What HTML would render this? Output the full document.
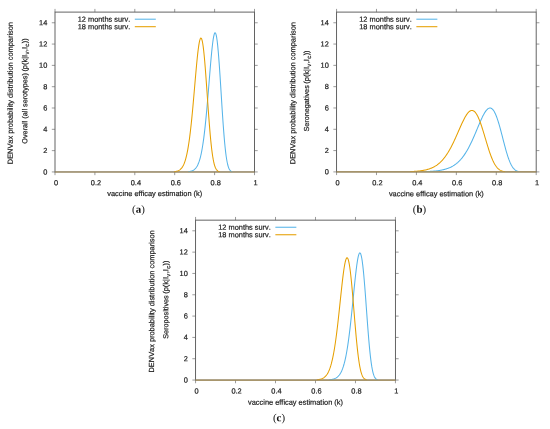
<!DOCTYPE html>
<html><head><meta charset="utf-8"><title>DENVax probability distribution comparison</title>
<style>html,body{margin:0;padding:0;background:#fff}svg{display:block;filter:blur(0.3px)}text{text-rendering:geometricPrecision;font-kerning:none;font-family:"Liberation Sans",sans-serif;font-size:7.4px;fill:#1c1c1c;stroke:#1c1c1c;stroke-width:0.2px}.cap{font-family:"Liberation Serif","DejaVu Serif",serif;font-size:10.9px;fill:#111;stroke:none}.sub{font-size:5.92px}.r{stroke-width:0.2px}</style></head><body>
<svg width="550" height="429" viewBox="0 0 550 429">
<rect width="550" height="429" fill="#fff"/>
<g>
<path d="M55.00 171.95v3.2M55.00 12.10v-3.2M94.90 171.95v3.2M94.90 12.10v-3.2M134.80 171.95v3.2M134.80 12.10v-3.2M174.70 171.95v3.2M174.70 12.10v-3.2M214.60 171.95v3.2M214.60 12.10v-3.2M254.50 171.95v3.2M254.50 12.10v-3.2M55.00 171.95h-3.2M254.50 171.95h3.2M55.00 150.64h-3.2M254.50 150.64h3.2M55.00 129.32h-3.2M254.50 129.32h3.2M55.00 108.01h-3.2M254.50 108.01h3.2M55.00 86.70h-3.2M254.50 86.70h3.2M55.00 65.38h-3.2M254.50 65.38h3.2M55.00 44.07h-3.2M254.50 44.07h3.2M55.00 22.76h-3.2M254.50 22.76h3.2" stroke="#707070" stroke-width="0.7" fill="none"/>
<rect x="55.00" y="12.10" width="199.50" height="159.85" fill="none" stroke="#5c5c5c" stroke-width="0.95"/>
<polyline points="188.27,171.66 188.77,171.60 189.27,171.53 189.77,171.45 190.26,171.35 190.76,171.24 191.26,171.10 191.76,170.94 192.26,170.75 192.76,170.52 193.26,170.26 193.75,169.95 194.25,169.60 194.75,169.18 195.25,168.70 195.75,168.14 196.25,167.50 196.75,166.76 197.25,165.91 197.74,164.94 198.24,163.84 198.74,162.59 199.24,161.17 199.74,159.57 200.24,157.77 200.74,155.76 201.24,153.52 201.73,151.03 202.23,148.28 202.73,145.25 203.23,141.93 203.73,138.31 204.23,134.39 204.73,130.16 205.23,125.62 205.72,120.78 206.22,115.66 206.72,110.27 207.22,104.64 207.72,98.81 208.22,92.82 208.72,86.72 209.22,80.57 209.72,74.45 210.21,68.42 210.71,62.57 211.21,56.99 211.71,51.77 212.21,47.00 212.71,42.78 213.21,39.19 213.71,36.33 214.20,34.27 214.70,33.07 215.20,32.79 215.70,33.46 216.20,35.10 216.70,37.70 217.20,41.25 217.69,45.68 218.19,50.95 218.69,56.96 219.19,63.60 219.69,70.77 220.19,78.33 220.69,86.15 221.19,94.08 221.69,102.01 222.18,109.79 222.68,117.30 223.18,124.46 223.68,131.16 224.18,137.34 224.68,142.96 225.18,147.99 225.67,152.41 226.17,156.24 226.67,159.51 227.17,162.25 227.67,164.51 228.17,166.33 228.67,167.79 229.17,168.92 229.66,169.78 230.16,170.43 230.66,170.91 231.16,171.25 231.66,171.49 232.16,171.66" fill="none" stroke="#56b4e9" stroke-width="1.05" stroke-linejoin="round"/>
<polyline points="174.30,171.66 174.80,171.60 175.30,171.53 175.80,171.44 176.30,171.33 176.80,171.21 177.30,171.06 177.79,170.89 178.29,170.68 178.79,170.44 179.29,170.16 179.79,169.83 180.29,169.44 180.79,168.99 181.29,168.47 181.78,167.86 182.28,167.16 182.78,166.36 183.28,165.45 183.78,164.40 184.28,163.21 184.78,161.86 185.28,160.34 185.78,158.62 186.27,156.71 186.77,154.57 187.27,152.19 187.77,149.57 188.27,146.69 188.77,143.53 189.27,140.08 189.77,136.36 190.26,132.34 190.76,128.03 191.26,123.45 191.76,118.60 192.26,113.50 192.76,108.18 193.26,102.67 193.75,97.01 194.25,91.25 194.75,85.44 195.25,79.65 195.75,73.93 196.25,68.37 196.75,63.04 197.25,58.01 197.74,53.38 198.24,49.23 198.74,45.62 199.24,42.64 199.74,40.35 200.24,38.81 200.74,38.06 201.24,38.15 201.73,39.08 202.23,40.87 202.73,43.49 203.23,46.93 203.73,51.12 204.23,56.01 204.73,61.53 205.23,67.58 205.72,74.07 206.22,80.88 206.72,87.92 207.22,95.06 207.72,102.20 208.22,109.24 208.72,116.08 209.22,122.64 209.72,128.85 210.21,134.65 210.71,139.99 211.21,144.86 211.71,149.23 212.21,153.11 212.71,156.50 213.21,159.43 213.71,161.92 214.20,164.02 214.70,165.76 215.20,167.18 215.70,168.33 216.20,169.23 216.70,169.94 217.20,170.49 217.69,170.90 218.19,171.21 218.69,171.44 219.19,171.60 219.69,171.72" fill="none" stroke="#e69f00" stroke-width="1.05" stroke-linejoin="round"/>
<path d="M55.00 171.95h199.50" stroke="#a8905a" stroke-width="1.15"/>
<text x="56.10" y="185.30" text-anchor="middle" transform="rotate(0.03 56.10 185.30)">0</text>
<text x="96.00" y="185.30" text-anchor="middle" transform="rotate(0.03 96.00 185.30)">0.2</text>
<text x="135.90" y="185.30" text-anchor="middle" transform="rotate(0.03 135.90 185.30)">0.4</text>
<text x="175.80" y="185.30" text-anchor="middle" transform="rotate(0.03 175.80 185.30)">0.6</text>
<text x="215.70" y="185.30" text-anchor="middle" transform="rotate(0.03 215.70 185.30)">0.8</text>
<text x="255.60" y="185.30" text-anchor="middle" transform="rotate(0.03 255.60 185.30)">1</text>
<text x="47.30" y="174.40" text-anchor="end" transform="rotate(0.03 47.30 174.40)">0</text>
<text x="47.30" y="153.09" text-anchor="end" transform="rotate(0.03 47.30 153.09)">2</text>
<text x="47.30" y="131.77" text-anchor="end" transform="rotate(0.03 47.30 131.77)">4</text>
<text x="47.30" y="110.46" text-anchor="end" transform="rotate(0.03 47.30 110.46)">6</text>
<text x="47.30" y="89.15" text-anchor="end" transform="rotate(0.03 47.30 89.15)">8</text>
<text x="47.30" y="67.83" text-anchor="end" transform="rotate(0.03 47.30 67.83)">10</text>
<text x="47.30" y="46.52" text-anchor="end" transform="rotate(0.03 47.30 46.52)">12</text>
<text x="47.30" y="25.21" text-anchor="end" transform="rotate(0.03 47.30 25.21)">14</text>
<text x="154.75" y="196.10" text-anchor="middle" transform="rotate(0.03 154.75 196.10)">vaccine efficay estimation (k)</text>
<text class="r" transform="translate(12.80 93.12) rotate(-89.97)" text-anchor="middle">DENVax probability distribution comparison</text>
<text class="r" transform="translate(27.20 143.65) rotate(-89.97)" text-anchor="start" style="font-size:7.25px">Overall (all serotypes)</text>
<text class="r" transform="translate(27.20 38.35) rotate(-89.97)" text-anchor="end">(p(k|I<tspan class="sub" dx="0.3" dy="1.9">v</tspan><tspan dx="0.5" dy="-1.9">,I</tspan><tspan class="sub" dx="0.3" dy="1.9">c</tspan><tspan dx="0.5" dy="-1.9">))</tspan></text>
<text x="130.30" y="21.80" text-anchor="end" transform="rotate(0.03 130.30 21.80)">12 months surv.</text>
<text x="130.30" y="29.30" text-anchor="end" transform="rotate(0.03 130.30 29.30)">18 months surv.</text>
<path d="M134.80 19.20h21" stroke="#56b4e9" stroke-width="1.05"/>
<path d="M134.80 26.70h21" stroke="#e69f00" stroke-width="1.05"/>
<text class="cap" x="138.40" y="212.70" text-anchor="middle" transform="rotate(0.03 138.40 212.70)">(<tspan font-weight="bold">a</tspan>)</text>
</g>
<g>
<path d="M336.55 171.90v3.2M336.55 12.10v-3.2M376.48 171.90v3.2M376.48 12.10v-3.2M416.41 171.90v3.2M416.41 12.10v-3.2M456.34 171.90v3.2M456.34 12.10v-3.2M496.27 171.90v3.2M496.27 12.10v-3.2M536.20 171.90v3.2M536.20 12.10v-3.2M336.55 171.90h-3.2M536.20 171.90h3.2M336.55 150.59h-3.2M536.20 150.59h3.2M336.55 129.29h-3.2M536.20 129.29h3.2M336.55 107.98h-3.2M536.20 107.98h3.2M336.55 86.67h-3.2M536.20 86.67h3.2M336.55 65.37h-3.2M536.20 65.37h3.2M336.55 44.06h-3.2M536.20 44.06h3.2M336.55 22.75h-3.2M536.20 22.75h3.2" stroke="#707070" stroke-width="0.7" fill="none"/>
<rect x="336.55" y="12.10" width="199.65" height="159.80" fill="none" stroke="#5c5c5c" stroke-width="0.95"/>
<polyline points="425.70,171.59 426.19,171.57 426.69,171.55 427.19,171.53 427.69,171.51 428.19,171.49 428.69,171.46 429.19,171.44 429.69,171.41 430.19,171.38 430.69,171.36 431.19,171.32 431.68,171.29 432.18,171.26 432.68,171.22 433.18,171.18 433.68,171.14 434.18,171.09 434.68,171.05 435.18,171.00 435.68,170.95 436.18,170.90 436.68,170.84 437.18,170.78 437.67,170.72 438.17,170.65 438.67,170.58 439.17,170.50 439.67,170.43 440.17,170.34 440.67,170.26 441.17,170.17 441.67,170.07 442.17,169.97 442.67,169.86 443.16,169.75 443.66,169.63 444.16,169.51 444.66,169.38 445.16,169.24 445.66,169.10 446.16,168.95 446.66,168.79 447.16,168.62 447.66,168.45 448.16,168.26 448.65,168.07 449.15,167.87 449.65,167.65 450.15,167.43 450.65,167.20 451.15,166.96 451.65,166.70 452.15,166.43 452.65,166.15 453.15,165.86 453.65,165.55 454.15,165.23 454.64,164.90 455.14,164.55 455.64,164.18 456.14,163.80 456.64,163.41 457.14,162.99 457.64,162.56 458.14,162.11 458.64,161.64 459.14,161.16 459.64,160.65 460.13,160.12 460.63,159.58 461.13,159.01 461.63,158.42 462.13,157.81 462.63,157.17 463.13,156.52 463.63,155.84 464.13,155.14 464.63,154.41 465.13,153.66 465.63,152.89 466.12,152.09 466.62,151.26 467.12,150.42 467.62,149.55 468.12,148.65 468.62,147.73 469.12,146.79 469.62,145.82 470.12,144.83 470.62,143.82 471.12,142.79 471.61,141.74 472.11,140.66 472.61,139.57 473.11,138.46 473.61,137.33 474.11,136.19 474.61,135.03 475.11,133.87 475.61,132.69 476.11,131.50 476.61,130.31 477.11,129.12 477.60,127.92 478.10,126.73 478.60,125.54 479.10,124.36 479.60,123.19 480.10,122.03 480.60,120.89 481.10,119.78 481.60,118.69 482.10,117.62 482.60,116.59 483.09,115.60 483.59,114.65 484.09,113.74 484.59,112.89 485.09,112.09 485.59,111.34 486.09,110.66 486.59,110.05 487.09,109.51 487.59,109.04 488.09,108.66 488.58,108.36 489.08,108.14 489.58,108.01 490.08,107.98 490.58,108.05 491.08,108.21 491.58,108.47 492.08,108.84 492.58,109.31 493.08,109.88 493.58,110.56 494.08,111.34 494.57,112.23 495.07,113.21 495.57,114.30 496.07,115.48 496.57,116.76 497.07,118.13 497.57,119.58 498.07,121.12 498.57,122.72 499.07,124.40 499.57,126.14 500.06,127.93 500.56,129.76 501.06,131.64 501.56,133.54 502.06,135.47 502.56,137.41 503.06,139.35 503.56,141.29 504.06,143.21 504.56,145.10 505.06,146.97 505.56,148.80 506.05,150.58 506.55,152.30 507.05,153.96 507.55,155.56 508.05,157.08 508.55,158.53 509.05,159.90 509.55,161.18 510.05,162.38 510.55,163.50 511.05,164.53 511.54,165.47 512.04,166.33 512.54,167.10 513.04,167.80 513.54,168.42 514.04,168.98 514.54,169.46 515.04,169.88 515.54,170.24 516.04,170.56 516.54,170.82 517.03,171.04 517.53,171.22 518.03,171.37 518.53,171.50 519.03,171.59" fill="none" stroke="#56b4e9" stroke-width="1.05" stroke-linejoin="round"/>
<polyline points="410.22,171.59 410.72,171.57 411.22,171.55 411.72,171.53 412.22,171.50 412.72,171.48 413.22,171.45 413.72,171.42 414.22,171.39 414.71,171.36 415.21,171.32 415.71,171.29 416.21,171.25 416.71,171.21 417.21,171.16 417.71,171.12 418.21,171.07 418.71,171.02 419.21,170.96 419.71,170.91 420.20,170.84 420.70,170.78 421.20,170.71 421.70,170.64 422.20,170.56 422.70,170.48 423.20,170.39 423.70,170.30 424.20,170.21 424.70,170.11 425.20,170.00 425.70,169.89 426.19,169.77 426.69,169.64 427.19,169.51 427.69,169.37 428.19,169.22 428.69,169.07 429.19,168.90 429.69,168.73 430.19,168.55 430.69,168.36 431.19,168.16 431.68,167.95 432.18,167.73 432.68,167.50 433.18,167.26 433.68,167.00 434.18,166.74 434.68,166.46 435.18,166.16 435.68,165.86 436.18,165.53 436.68,165.20 437.18,164.85 437.67,164.48 438.17,164.09 438.67,163.69 439.17,163.27 439.67,162.84 440.17,162.38 440.67,161.91 441.17,161.42 441.67,160.90 442.17,160.37 442.67,159.81 443.16,159.24 443.66,158.64 444.16,158.02 444.66,157.38 445.16,156.72 445.66,156.03 446.16,155.32 446.66,154.59 447.16,153.83 447.66,153.05 448.16,152.25 448.65,151.42 449.15,150.57 449.65,149.70 450.15,148.81 450.65,147.89 451.15,146.95 451.65,145.99 452.15,145.00 452.65,144.00 453.15,142.98 453.65,141.94 454.15,140.88 454.64,139.81 455.14,138.72 455.64,137.62 456.14,136.51 456.64,135.38 457.14,134.25 457.64,133.12 458.14,131.98 458.64,130.83 459.14,129.69 459.64,128.55 460.13,127.42 460.63,126.30 461.13,125.18 461.63,124.09 462.13,123.01 462.63,121.95 463.13,120.91 463.63,119.91 464.13,118.93 464.63,117.99 465.13,117.09 465.63,116.23 466.12,115.41 466.62,114.64 467.12,113.93 467.62,113.28 468.12,112.68 468.62,112.15 469.12,111.68 469.62,111.28 470.12,110.96 470.62,110.71 471.12,110.54 471.61,110.45 472.11,110.44 472.61,110.51 473.11,110.67 473.61,110.92 474.11,111.26 474.61,111.69 475.11,112.20 475.61,112.80 476.11,113.49 476.61,114.26 477.11,115.12 477.60,116.07 478.10,117.09 478.60,118.19 479.10,119.36 479.60,120.61 480.10,121.92 480.60,123.29 481.10,124.72 481.60,126.20 482.10,127.73 482.60,129.30 483.09,130.90 483.59,132.53 484.09,134.19 484.59,135.86 485.09,137.54 485.59,139.22 486.09,140.90 486.59,142.57 487.09,144.22 487.59,145.85 488.09,147.46 488.58,149.03 489.08,150.57 489.58,152.06 490.08,153.50 490.58,154.90 491.08,156.24 491.58,157.52 492.08,158.75 492.58,159.91 493.08,161.01 493.58,162.04 494.08,163.02 494.57,163.92 495.07,164.77 495.57,165.55 496.07,166.27 496.57,166.93 497.07,167.54 497.57,168.08 498.07,168.58 498.57,169.03 499.07,169.42 499.57,169.78 500.06,170.09 500.56,170.37 501.06,170.61 501.56,170.82 502.06,171.00 502.56,171.16 503.06,171.29 503.56,171.40 504.06,171.50 504.56,171.58 505.06,171.64" fill="none" stroke="#e69f00" stroke-width="1.05" stroke-linejoin="round"/>
<path d="M336.55 171.90h199.65" stroke="#a8905a" stroke-width="1.15"/>
<text x="337.45" y="185.25" text-anchor="middle" transform="rotate(0.03 337.45 185.25)">0</text>
<text x="377.38" y="185.25" text-anchor="middle" transform="rotate(0.03 377.38 185.25)">0.2</text>
<text x="417.31" y="185.25" text-anchor="middle" transform="rotate(0.03 417.31 185.25)">0.4</text>
<text x="457.24" y="185.25" text-anchor="middle" transform="rotate(0.03 457.24 185.25)">0.6</text>
<text x="497.17" y="185.25" text-anchor="middle" transform="rotate(0.03 497.17 185.25)">0.8</text>
<text x="537.10" y="185.25" text-anchor="middle" transform="rotate(0.03 537.10 185.25)">1</text>
<text x="328.85" y="174.35" text-anchor="end" transform="rotate(0.03 328.85 174.35)">0</text>
<text x="328.85" y="153.04" text-anchor="end" transform="rotate(0.03 328.85 153.04)">2</text>
<text x="328.85" y="131.74" text-anchor="end" transform="rotate(0.03 328.85 131.74)">4</text>
<text x="328.85" y="110.43" text-anchor="end" transform="rotate(0.03 328.85 110.43)">6</text>
<text x="328.85" y="89.12" text-anchor="end" transform="rotate(0.03 328.85 89.12)">8</text>
<text x="328.85" y="67.82" text-anchor="end" transform="rotate(0.03 328.85 67.82)">10</text>
<text x="328.85" y="46.51" text-anchor="end" transform="rotate(0.03 328.85 46.51)">12</text>
<text x="328.85" y="25.20" text-anchor="end" transform="rotate(0.03 328.85 25.20)">14</text>
<text x="436.38" y="196.35" text-anchor="middle" transform="rotate(0.03 436.38 196.35)">vaccine efficay estimation (k)</text>
<text class="r" transform="translate(295.35 93.10) rotate(-89.97)" text-anchor="middle">DENVax probability distribution comparison</text>
<text class="r" transform="translate(309.05 131.57) rotate(-89.97)" text-anchor="start" style="font-size:7.25px">Seronegatives</text>
<text class="r" transform="translate(309.05 50.43) rotate(-89.97)" text-anchor="end">(p(k|I<tspan class="sub" dx="0.3" dy="1.9">v</tspan><tspan dx="0.5" dy="-1.9">,I</tspan><tspan class="sub" dx="0.3" dy="1.9">c</tspan><tspan dx="0.5" dy="-1.9">))</tspan></text>
<text x="411.85" y="21.80" text-anchor="end" transform="rotate(0.03 411.85 21.80)">12 months surv.</text>
<text x="411.85" y="29.30" text-anchor="end" transform="rotate(0.03 411.85 29.30)">18 months surv.</text>
<path d="M416.35 19.20h21" stroke="#56b4e9" stroke-width="1.05"/>
<path d="M416.35 26.70h21" stroke="#e69f00" stroke-width="1.05"/>
<text class="cap" x="419.50" y="212.80" text-anchor="middle" transform="rotate(0.03 419.50 212.80)">(<tspan font-weight="bold">b</tspan>)</text>
</g>
<g>
<path d="M195.55 380.05v3.2M195.55 220.15v-3.2M235.53 380.05v3.2M235.53 220.15v-3.2M275.51 380.05v3.2M275.51 220.15v-3.2M315.49 380.05v3.2M315.49 220.15v-3.2M355.47 380.05v3.2M355.47 220.15v-3.2M395.45 380.05v3.2M395.45 220.15v-3.2M195.55 380.05h-3.2M395.45 380.05h3.2M195.55 358.73h-3.2M395.45 358.73h3.2M195.55 337.41h-3.2M395.45 337.41h3.2M195.55 316.09h-3.2M395.45 316.09h3.2M195.55 294.77h-3.2M395.45 294.77h3.2M195.55 273.45h-3.2M395.45 273.45h3.2M195.55 252.13h-3.2M395.45 252.13h3.2M195.55 230.81h-3.2M395.45 230.81h3.2" stroke="#707070" stroke-width="0.7" fill="none"/>
<rect x="195.55" y="220.15" width="199.90" height="159.90" fill="none" stroke="#5c5c5c" stroke-width="0.95"/>
<polyline points="329.28,379.76 329.78,379.72 330.28,379.66 330.78,379.60 331.28,379.52 331.78,379.44 332.28,379.34 332.78,379.23 333.28,379.10 333.78,378.95 334.28,378.78 334.78,378.59 335.28,378.36 335.78,378.11 336.28,377.82 336.78,377.49 337.28,377.11 337.78,376.68 338.28,376.20 338.78,375.66 339.28,375.04 339.78,374.35 340.28,373.58 340.78,372.71 341.28,371.74 341.78,370.66 342.28,369.46 342.78,368.13 343.28,366.65 343.78,365.02 344.28,363.23 344.78,361.27 345.28,359.12 345.78,356.78 346.27,354.24 346.77,351.48 347.27,348.52 347.77,345.33 348.27,341.92 348.77,338.29 349.27,334.43 349.77,330.37 350.27,326.10 350.77,321.65 351.27,317.02 351.77,312.25 352.27,307.37 352.77,302.39 353.27,297.38 353.77,292.36 354.27,287.39 354.77,282.52 355.27,277.81 355.77,273.32 356.27,269.11 356.77,265.25 357.27,261.81 357.77,258.84 358.27,256.41 358.77,254.58 359.27,253.39 359.77,252.89 360.27,253.11 360.77,254.07 361.27,255.79 361.77,258.25 362.27,261.45 362.77,265.34 363.27,269.88 363.77,275.02 364.27,280.68 364.77,286.77 365.27,293.20 365.77,299.88 366.26,306.70 366.76,313.55 367.26,320.35 367.76,326.98 368.26,333.37 368.76,339.43 369.26,345.11 369.76,350.35 370.26,355.11 370.76,359.39 371.26,363.16 371.76,366.43 372.26,369.24 372.76,371.60 373.26,373.55 373.76,375.14 374.26,376.40 374.76,377.40 375.26,378.16 375.76,378.73 376.26,379.15 376.76,379.45 377.26,379.66 377.76,379.80" fill="none" stroke="#56b4e9" stroke-width="1.05" stroke-linejoin="round"/>
<polyline points="316.79,379.78 317.29,379.73 317.79,379.67 318.29,379.61 318.79,379.53 319.29,379.45 319.79,379.34 320.29,379.23 320.79,379.09 321.29,378.93 321.79,378.75 322.29,378.54 322.79,378.30 323.29,378.03 323.79,377.72 324.29,377.36 324.79,376.96 325.29,376.50 325.79,375.97 326.28,375.38 326.78,374.72 327.28,373.97 327.78,373.13 328.28,372.19 328.78,371.14 329.28,369.97 329.78,368.67 330.28,367.24 330.78,365.65 331.28,363.90 331.78,361.99 332.28,359.90 332.78,357.62 333.28,355.15 333.78,352.48 334.28,349.60 334.78,346.51 335.28,343.21 335.78,339.70 336.28,335.99 336.78,332.08 337.28,327.99 337.78,323.72 338.28,319.30 338.78,314.75 339.28,310.11 339.78,305.39 340.28,300.63 340.78,295.89 341.28,291.19 341.78,286.60 342.28,282.15 342.78,277.92 343.28,273.94 343.78,270.28 344.28,266.99 344.78,264.13 345.28,261.74 345.78,259.88 346.27,258.59 346.77,257.89 347.27,257.83 347.77,258.42 348.27,259.65 348.77,261.55 349.27,264.08 349.77,267.23 350.27,270.96 350.77,275.23 351.27,279.98 351.77,285.15 352.27,290.66 352.77,296.44 353.27,302.42 353.77,308.50 354.27,314.61 354.77,320.67 355.27,326.61 355.77,332.36 356.27,337.86 356.77,343.05 357.27,347.91 357.77,352.39 358.27,356.48 358.77,360.17 359.27,363.46 359.77,366.35 360.27,368.87 360.77,371.03 361.27,372.86 361.77,374.38 362.27,375.65 362.77,376.67 363.27,377.49 363.77,378.14 364.27,378.65 364.77,379.04 365.27,379.33 365.77,379.54 366.26,379.70 366.76,379.81" fill="none" stroke="#e69f00" stroke-width="1.05" stroke-linejoin="round"/>
<path d="M195.55 380.05h199.90" stroke="#a8905a" stroke-width="1.15"/>
<text x="196.55" y="393.40" text-anchor="middle" transform="rotate(0.03 196.55 393.40)">0</text>
<text x="236.53" y="393.40" text-anchor="middle" transform="rotate(0.03 236.53 393.40)">0.2</text>
<text x="276.51" y="393.40" text-anchor="middle" transform="rotate(0.03 276.51 393.40)">0.4</text>
<text x="316.49" y="393.40" text-anchor="middle" transform="rotate(0.03 316.49 393.40)">0.6</text>
<text x="356.47" y="393.40" text-anchor="middle" transform="rotate(0.03 356.47 393.40)">0.8</text>
<text x="396.45" y="393.40" text-anchor="middle" transform="rotate(0.03 396.45 393.40)">1</text>
<text x="187.85" y="382.50" text-anchor="end" transform="rotate(0.03 187.85 382.50)">0</text>
<text x="187.85" y="361.18" text-anchor="end" transform="rotate(0.03 187.85 361.18)">2</text>
<text x="187.85" y="339.86" text-anchor="end" transform="rotate(0.03 187.85 339.86)">4</text>
<text x="187.85" y="318.54" text-anchor="end" transform="rotate(0.03 187.85 318.54)">6</text>
<text x="187.85" y="297.22" text-anchor="end" transform="rotate(0.03 187.85 297.22)">8</text>
<text x="187.85" y="275.90" text-anchor="end" transform="rotate(0.03 187.85 275.90)">10</text>
<text x="187.85" y="254.58" text-anchor="end" transform="rotate(0.03 187.85 254.58)">12</text>
<text x="187.85" y="233.26" text-anchor="end" transform="rotate(0.03 187.85 233.26)">14</text>
<text x="295.50" y="404.80" text-anchor="middle" transform="rotate(0.03 295.50 404.80)">vaccine efficay estimation (k)</text>
<text class="r" transform="translate(154.15 301.40) rotate(-89.97)" text-anchor="middle">DENVax probability distribution comparison</text>
<text class="r" transform="translate(168.25 338.81) rotate(-89.97)" text-anchor="start" style="font-size:7.25px">Seropositives</text>
<text class="r" transform="translate(168.25 260.49) rotate(-89.97)" text-anchor="end">(p(k|I<tspan class="sub" dx="0.3" dy="1.9">v</tspan><tspan dx="0.5" dy="-1.9">,I</tspan><tspan class="sub" dx="0.3" dy="1.9">c</tspan><tspan dx="0.5" dy="-1.9">))</tspan></text>
<text x="270.85" y="229.85" text-anchor="end" transform="rotate(0.03 270.85 229.85)">12 months surv.</text>
<text x="270.85" y="237.35" text-anchor="end" transform="rotate(0.03 270.85 237.35)">18 months surv.</text>
<path d="M275.35 227.25h21" stroke="#56b4e9" stroke-width="1.05"/>
<path d="M275.35 234.75h21" stroke="#e69f00" stroke-width="1.05"/>
<text class="cap" x="279.00" y="421.30" text-anchor="middle" transform="rotate(0.03 279.00 421.30)">(<tspan font-weight="bold">c</tspan>)</text>
</g>
</svg></body></html>
